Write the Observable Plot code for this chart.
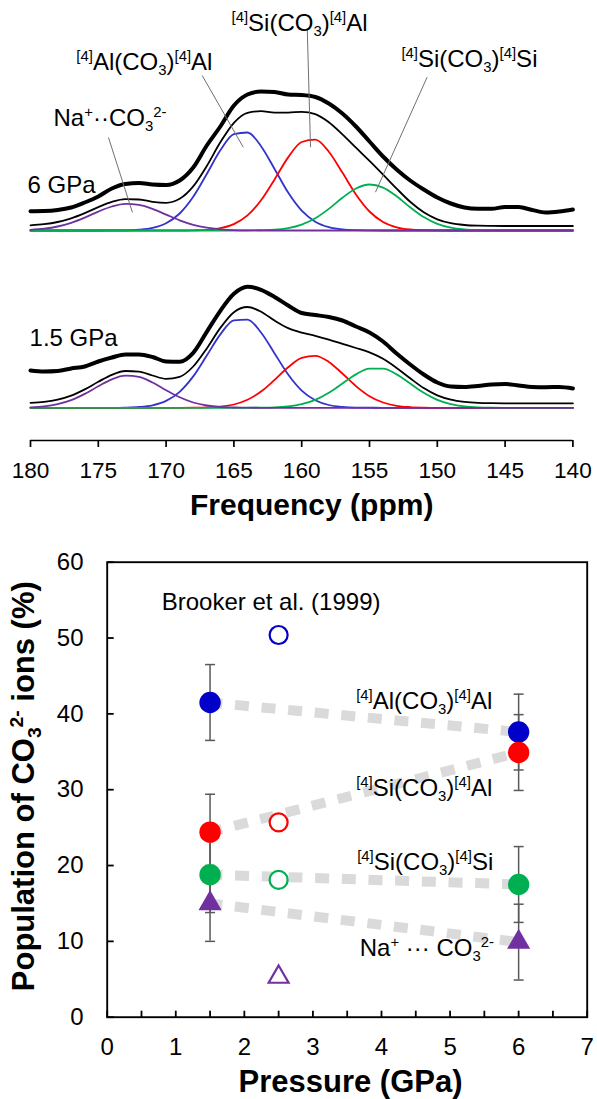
<!DOCTYPE html>
<html><head><meta charset="utf-8">
<script src="https://cdn.jsdelivr.net/npm/d3@7"></script>
<script src="https://cdn.jsdelivr.net/npm/@observablehq/plot@0.6"></script>
<style>
html,body{margin:0;padding:0;background:#fff;}
#top,#bottom{width:597px;}
svg{display:block;}
</style></head><body>
<div id="top"></div><div id="bottom"></div>
<script>
// ---------------- Spectra (ppm axis; heights in intensity units above each panel's baseline)
const ppm = [180,179,178,177,176,175,174,173,172,171,170,169,168,167,166,165,164,163,162,161,160,159,158,157,156,155,154,153,152,151,150,149,148,147,146,145,144,143,142,141,140];

const sixPurple = [0.7,1.8,4.0,7.7,12.9,18.9,24.0,26.6,25.7,21.6,15.9,10.2,5.7,2.8,1.2,0.4,0.1,0,0,0,0,0,0,0,0,0,0,0,0,0,0,0,0,0,0,0,0,0,0,0,0];
const sixBlue   = [0,0,0,0,0,0,0.1,0.2,0.8,2.6,7.3,17.0,33.7,56.5,80.2,96.4,98.0,84.3,61.5,37.9,19.8,8.8,3.3,1.0,0.3,0.1,0,0,0,0,0,0,0,0,0,0,0,0,0,0,0];
const sixRed    = [0,0,0,0,0,0,0,0,0,0,0,0,0.2,0.7,2.3,6.4,15.1,30.2,51.1,73.1,88.5,90.8,78.8,57.9,36.0,19.0,8.5,3.2,1.0,0.3,0.1,0,0,0,0,0,0,0,0,0,0];
const sixGreen  = [0,0,0,0,0,0,0,0,0,0,0,0,0,0,0,0,0,0.3,0.8,2.4,5.9,12.2,21.6,32.7,42.0,46.0,42.9,34.2,23.2,13.4,6.6,2.8,1.0,0.3,0.1,0,0,0,0,0,0];
const sixSpectrum = [19.3,19.5,20.5,23.0,28.0,34.0,42.0,46.5,47.5,46.0,45.5,50.0,63.0,85.0,104.0,125.0,136.0,139.0,138.5,136.0,135.5,133.5,127.0,117.0,104.0,89.0,74.0,61.0,50.0,41.0,33.0,27.0,23.0,21.7,21.7,23.5,23.5,20.5,18.0,19.0,21.0];

const onePurple = [0.5,1.4,3.6,7.6,13.9,21.5,28.5,32.1,30.9,25.3,17.6,10.5,5.3,2.3,0.8,0.3,0.1,0,0,0,0,0,0,0,0,0,0,0,0,0,0,0,0,0,0,0,0,0,0,0,0];
const oneBlue   = [0,0,0,0,0,0,0.0,0.2,0.8,2.5,6.9,16.0,31.4,52.2,73.4,87.5,88.2,75.3,54.4,33.3,17.2,7.6,2.8,0.9,0.2,0.1,0,0,0,0,0,0,0,0,0,0,0,0,0,0,0];
const oneRed    = [0,0,0,0,0,0,0,0,0,0,0,0,0.1,0.4,1.2,3.3,8.0,16.2,27.9,40.5,49.9,52.0,45.9,34.3,21.7,11.6,5.3,2.0,0.7,0.2,0.0,0,0,0,0,0,0,0,0,0,0];
const oneGreen  = [0,0,0,0,0,0,0,0,0,0,0,0,0,0,0,0,0,0.1,0.4,1.4,3.6,7.9,15.0,24.3,33.4,39.2,39.2,33.4,24.3,15.0,7.9,3.6,1.4,0.4,0.1,0,0,0,0,0,0];
const oneSpectrum = [37.3,36.3,36.8,39.3,41.3,46.3,50.3,53.3,53.3,50.8,46.3,46.0,55.0,76.0,97.0,114.0,121.0,118.0,110.8,102.3,94.8,92.8,90.8,87.3,81.3,75.3,66.3,54.3,43.3,33.3,25.3,21.3,20.8,21.8,23.3,23.8,22.3,20.8,20.6,20.8,19.3];

const ppmTicks = [180,175,170,165,160,155,150,145,140];

// ---------------- Population of CO3 2- ions (%)
const pressure = [1.5, 6];
const popAlAl = [41.5, 37.6];
const popSiAl = [24.4, 34.9];
const popSiSi = [18.8, 17.5];
const popNa   = [15.0, 9.9];
const errAlAl = [5, 5];
const errSiAl = [5, 5];
const errSiSi = [5, 5];
const errNa   = [5, 5];
const brookerPressure = 2.5;
const brookerAlAl = 50.4;
const brookerSiAl = 25.7;
const brookerSiSi = 18.1;
const brookerNa   = 5.3;
const pressureTicks = [0,1,2,3,4,5,6,7];
const pressureMinor = [0,0.5,1,1.5,2,2.5,3,3.5,4,4.5,5,5.5,6,6.5,7];
const popTicks = [0,10,20,30,40,50,60];

// ---------------- rich labels (sup / sub segments)
const rich = {
  AlAl: [["[4]","sup"],["Al(CO"],["3","sub"],[")"],["[4]","sup"],["Al"]],
  SiAl: [["[4]","sup"],["Si(CO"],["3","sub"],[")"],["[4]","sup"],["Al"]],
  SiSi: [["[4]","sup"],["Si(CO"],["3","sub"],[")"],["[4]","sup"],["Si"]],
  NaTop: [["Na"],["+","sup"],["\u00b7\u00b7CO"],["3","sub"],["2-","sup"]],
  NaBottom: [["Na"],["+","sup"],[" \u00b7\u00b7\u00b7 CO"],["3","sub"],["2-","sup"]],
  yTitle: [["Population of CO"],["3","sub"],["2-","sup"],[" ions (%)"]]
};
const plain = k => rich[k].map(s => s[0]).join("");

const FONT = "'Liberation Sans', Arial, Helvetica, sans-serif";

// ================= TOP: spectra =================
const panels = [
  {name: "6 GPa", base: 210, comps: {blue: sixBlue, red: sixRed, green: sixGreen, purple: sixPurple}, spec: sixSpectrum},
  {name: "1.5 GPa", base: 32.7, comps: {blue: oneBlue, red: oneRed, green: oneGreen, purple: onePurple}, spec: oneSpectrum}
];
const fitOffset = 4.5;
const compColor = {blue: "#3333cc", red: "#ff0000", green: "#00b050", purple: "#7030a0"};
const compOrder = ["blue", "red", "green", "purple"];
const compRows = [], fitRows = [], specRows = [];
for (const p of panels) {
  for (const c of compOrder) p.comps[c].forEach((v, i) => compRows.push({panel: p.name, comp: c, ppm: ppm[i], y: p.base + v}));
  ppm.forEach((x, i) => {
    const s = compOrder.reduce((a, c) => a + p.comps[c][i], 0);
    fitRows.push({panel: p.name, ppm: x, y: p.base + fitOffset + s});
    specRows.push({panel: p.name, ppm: x, y: p.base + p.spec[i]});
  });
}
const topLabels = [
  {t: plain("SiAl"), x: 160.16, y: 417.5},
  {t: plain("AlAl"), x: 171.6, y: 378.3},
  {t: plain("NaTop"), x: 174.14, y: 322.5},
  {t: plain("SiSi"), x: 147.63, y: 381}
];
const topLeaders = [
  {x1: 174.25, y1: 303, x2: 172.48, y2: 228},
  {x1: 167.34, y1: 365, x2: 164.31, y2: 293.3},
  {x1: 159.59, y1: 412, x2: 159.35, y2: 293.3},
  {x1: 150.75, y1: 363.3, x2: 154.56, y2: 248.3}
];
const panelLabels = [
  {t: "6 GPa", x: 180.22, y: 255.3},
  {t: "1.5 GPa", x: 180.07, y: 101.7}
];

const topChart = Plot.plot({
  width: 597, height: 540,
  marginLeft: 30, marginRight: 24.6, marginTop: 0, marginBottom: 100,
  x: {domain: [180, 140]},
  y: {domain: [0, 440], axis: null},
  style: {fontFamily: FONT, fontSize: "23px", color: "black", background: "white", overflow: "visible"},
  marks: [
    ...compOrder.map(c => Plot.line(compRows.filter(d => d.comp === c), {x: "ppm", y: "y", z: "panel", stroke: compColor[c], strokeWidth: 1.8, curve: "monotone-x"})),
    Plot.line(fitRows, {x: "ppm", y: "y", z: "panel", stroke: "black", strokeWidth: 1.8, curve: "monotone-x"}),
    Plot.line(specRows, {x: "ppm", y: "y", z: "panel", stroke: "black", strokeWidth: 4, curve: "monotone-x"}),
    Plot.link(topLeaders, {x1: "x1", y1: "y1", x2: "x2", y2: "y2", stroke: "#707070", strokeWidth: 1}),
    Plot.text(topLabels, {x: "x", y: "y", text: "t", fontSize: 24, textAnchor: "middle", lineAnchor: "middle"}),
    Plot.text(panelLabels, {x: "x", y: "y", text: "t", fontSize: 24, textAnchor: "start", lineAnchor: "middle"}),
    Plot.ruleY([0], {stroke: "black", strokeWidth: 1.7}),
    Plot.axisX(ppmTicks, {tickSize: 7, tickPadding: 14, fontSize: 22.6, label: null, strokeWidth: 1.7}),
    Plot.text(["Frequency (ppm)"], {frameAnchor: "bottom", textAnchor: "middle", lineAnchor: "middle", dx: 10, dy: 65, fontSize: 30, fontWeight: "bold"})
  ]
});
document.getElementById("top").appendChild(topChart);

// ================= BOTTOM: populations =================
const species = [
  {k: "AlAl", v: popAlAl, e: errAlAl, b: brookerAlAl, color: "#0000c8", symbol: "circle"},
  {k: "SiAl", v: popSiAl, e: errSiAl, b: brookerSiAl, color: "#ff0000", symbol: "circle"},
  {k: "SiSi", v: popSiSi, e: errSiSi, b: brookerSiSi, color: "#00b050", symbol: "circle"},
  {k: "Na",   v: popNa,   e: errNa,   b: brookerNa,   color: "#7030a0", symbol: "triangle"}
];
const popRows = [], capRows = [];
for (const s of species) pressure.forEach((p, i) => {
  popRows.push({sp: s.k, p, v: s.v[i], e: s.e[i]});
  capRows.push({p, y: s.v[i] - s.e[i]}, {p, y: s.v[i] + s.e[i]});
});
const capSymbol = {draw(ctx, size) { const w = Math.sqrt(size / Math.PI); ctx.moveTo(-w, 0); ctx.lineTo(w, 0); }};
const tickRight = {draw(ctx, size) { const w = Math.sqrt(size / Math.PI); ctx.moveTo(0, 0); ctx.lineTo(w, 0); }};
const tickUp = {draw(ctx, size) { const w = Math.sqrt(size / Math.PI); ctx.moveTo(0, 0); ctx.lineTo(0, -w); }};

const bottomLabels = [
  {t: plain("AlAl"), x: 5.615, y: 41.6},
  {t: plain("SiAl"), x: 5.615, y: 30.2},
  {t: plain("SiSi"), x: 5.63, y: 20.4},
  {t: plain("NaBottom"), x: 5.64, y: 9.06}
];

const dotMarks = [];
for (const s of species) {
  const rows = popRows.filter(d => d.sp === s.k);
  dotMarks.push(Plot.dot(rows, {x: "p", y: "v", symbol: s.symbol, r: s.symbol === "circle" ? 10.7 : 8.6, fill: s.color, stroke: "none"}));
  dotMarks.push(Plot.dot([{p: brookerPressure, v: s.b}], {x: "p", y: "v", symbol: s.symbol, r: s.symbol === "circle" ? 9 : 7.4, fill: "white", stroke: s.color, strokeWidth: 2.2}));
}

const bottomChart = Plot.plot({
  width: 597, height: 559,
  marginLeft: 106.7, marginRight: 10.3, marginTop: 21.7, marginBottom: 82.3,
  x: {domain: [0, 7], axis: null},
  y: {domain: [0, 60], axis: null},
  style: {fontFamily: FONT, fontSize: "24px", color: "black", background: "white", overflow: "visible"},
  marks: [
    Plot.line(popRows, {x: "p", y: "v", z: "sp", stroke: "#dadada", strokeWidth: 10, strokeDasharray: "14,12.7", strokeDashoffset: 1.7, strokeLinecap: "butt", strokeLinejoin: "miter"}),
    Plot.ruleX(popRows, {x: "p", y1: d => d.v - d.e, y2: d => d.v + d.e, stroke: "#595959", strokeWidth: 1.5}),
    Plot.dot(capRows, {x: "p", y: "y", symbol: capSymbol, r: 5, fill: "none", stroke: "#595959", strokeWidth: 1.5}),
    ...dotMarks,
    Plot.frame({stroke: "black", strokeWidth: 1.9}),
    // inward ticks
    Plot.dot(popTicks, {x: () => 0, y: d => d, symbol: tickRight, r: 6.5, fill: "none", stroke: "black", strokeWidth: 1.8}),
    Plot.dot(pressureMinor, {x: d => d, y: () => 0, symbol: tickUp, r: 6.5, fill: "none", stroke: "black", strokeWidth: 1.8}),
    // tick labels
    Plot.text(popTicks, {y: d => d, frameAnchor: "left", textAnchor: "end", lineAnchor: "middle", dx: -23.7, fontSize: 24}),
    Plot.text(pressureTicks, {x: d => d, frameAnchor: "bottom", textAnchor: "middle", lineAnchor: "middle", dy: 30, fontSize: 24}),
    Plot.text(["Brooker et al. (1999)"], {x: 2.39, y: 54.7, fontSize: 24, textAnchor: "middle", lineAnchor: "middle"}),
    Plot.text(bottomLabels, {x: "x", y: "y", text: "t", fontSize: 24, textAnchor: "end", lineAnchor: "middle"}),
    Plot.text(["Pressure (GPa)"], {frameAnchor: "bottom", textAnchor: "middle", lineAnchor: "middle", dx: 3.3, dy: 65.3, fontSize: 31, fontWeight: "bold"}),
    Plot.text([plain("yTitle")], {frameAnchor: "left", textAnchor: "middle", lineAnchor: "middle", rotate: -90, dx: -83, dy: -3.5, fontSize: 31, fontWeight: "bold"})
  ]
});
document.getElementById("bottom").appendChild(bottomChart);

// ---------------- turn plain label strings into sup/sub tspans
const richMap = {};
for (const k in rich) richMap[plain(k)] = rich[k];
function richify(svg) {
  svg.querySelectorAll("text").forEach(t => {
    const key = t.textContent;
    if (!(key in richMap)) return;
    const fs = parseFloat(getComputedStyle(t).fontSize);
    while (t.firstChild) t.removeChild(t.firstChild);
    for (const [s, kind] of richMap[key]) {
      const ts = document.createElementNS("http://www.w3.org/2000/svg", "tspan");
      ts.textContent = s;
      if (kind === "sup") { ts.style.fontSize = (fs * 0.62) + "px"; ts.style.baselineShift = (fs * 0.37) + "px"; }
      if (kind === "sub") { ts.style.fontSize = (fs * 0.62) + "px"; ts.style.baselineShift = (-fs * 0.22) + "px"; }
      t.appendChild(ts);
    }
  });
}
richify(topChart);
richify(bottomChart);
</script>
</body></html>
